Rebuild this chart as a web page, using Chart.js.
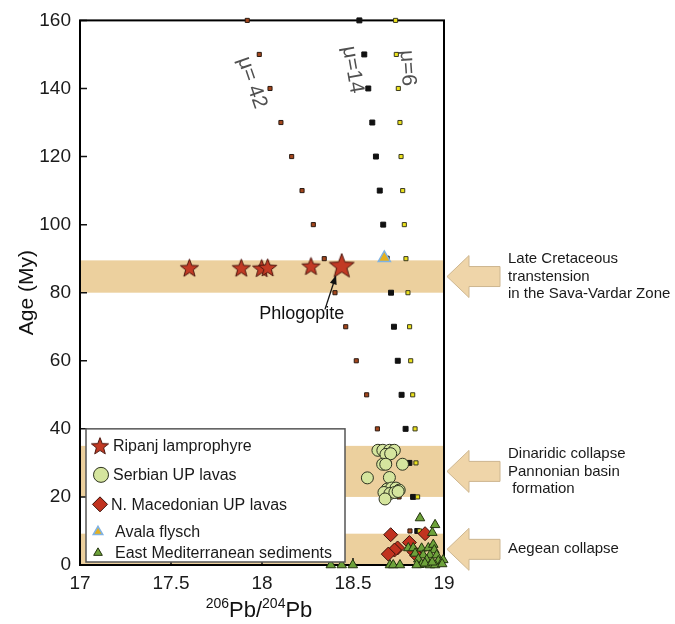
<!DOCTYPE html>
<html>
<head>
<meta charset="utf-8">
<script src="https://cdn.jsdelivr.net/npm/chart.js@4.4.1/dist/chart.umd.min.js"></script>
<style>
  html, body { margin: 0; padding: 0; background: #ffffff; }
  #wrap { width: 675px; height: 624px; }
</style>
</head>
<body>
<div id="wrap"><canvas id="chart" width="675" height="624"></canvas></div>
<script>
// ---- data -------------------------------------------------------------
// Pb growth-curve model points, one every 10 My
const modelAges = [160, 150, 140, 130, 120, 110, 100, 90, 80, 70, 60, 50, 40, 30, 20, 10, 0];
const mu42X = [17.919, 17.985, 18.044, 18.104, 18.163, 18.220, 18.282, 18.342, 18.401, 18.460, 18.518, 18.575, 18.634, 18.698, 18.753, 18.813, 18.870];
const mu14X = [18.535, 18.562, 18.584, 18.606, 18.626, 18.647, 18.666, 18.685, 18.709, 18.725, 18.746, 18.767, 18.789, 18.810, 18.830, 18.853, 18.875];
const mu6X  = [18.734, 18.738, 18.749, 18.758, 18.764, 18.773, 18.782, 18.791, 18.802, 18.811, 18.817, 18.828, 18.841, 18.846, 18.855, 18.866, 18.878];

// Ripanj lamprophyre (last one = phlogopite)
const ripanjX = [17.601, 17.886, 17.998, 18.031, 18.269, 18.438];
const ripanjY = [87.3, 87.3, 87.2, 87.4, 87.8, 88.0];

// Avala flysch
const avalaX = [18.672];
const avalaY = [90.2];

// Serbian UP lavas
const serbianX = [18.637, 18.664, 18.701, 18.727, 18.681, 18.707, 18.663, 18.680, 18.772, 18.579,
                  18.700, 18.688, 18.712, 18.736, 18.754, 18.670, 18.703, 18.730, 18.676, 18.748];
const serbianY = [33.7, 33.7, 33.7, 33.7, 32.5, 32.7, 29.6, 29.6, 29.6, 25.6,
                  25.7, 22.3, 22.6, 22.6, 22.0, 21.3, 21.0, 21.3, 19.4, 21.6];

// N. Macedonian UP lavas
const macedonianX = [18.707, 18.896, 18.810, 18.745, 18.728, 18.694, 18.835, 18.850];
const macedonianY = [8.9, 9.2, 6.6, 5.0, 4.4, 3.2, 3.9, 2.8];

// East Mediterranean sediments
const eastMedX = [18.378, 18.438, 18.499, 18.703, 18.721, 18.758, 18.868, 18.951, 18.936, 18.804,
                  18.831, 18.877, 18.914, 18.941, 18.947, 18.841, 18.886, 18.923, 18.960, 18.859,
                  18.905, 18.969, 18.996, 18.877, 18.923, 18.951, 18.850, 18.990, 18.895, 18.935];
const eastMedY = [0, 0, 0, 0, 0, 0, 13.8, 11.8, 9.5, 5.0,
                  5.0, 4.9, 5.0, 6.0, 4.4, 3.4, 2.9, 2.9, 2.9, 1.7,
                  1.5, 1.2, 1.5, 0.2, 0, 0, 0, 0.3, 0.5, 0.8];

// tectonic episodes (age ranges, My)
const bandFrom = [80, 20, 0];
const bandTo = [89.5, 35, 9.2];
const bandText = [
  ['Late Cretaceous', 'transtension', 'in the Sava-Vardar Zone'],
  ['Dinaridic collapse', 'Pannonian basin', ' formation'],
  ['Aegean collapse']
];

// axis ticks
const xTicks = [17, 17.5, 18, 18.5, 19];
const yTicks = [0, 20, 40, 60, 80, 100, 120, 140, 160];

// curve labels
const muText = ['\u03bc= 42', '\u03bc=14', '\u03bc=6'];

// ---- styles -----------------------------------------------------------
const FONT = '"Liberation Sans", Arial, Helvetica, sans-serif';
const BAND = '#ecd09e';
const ARROW_FILL = '#efd5a9';
const ARROW_EDGE = '#cdb690';
const muStyle = { x: [17.945, 18.498, 18.799], y: [141.7, 145.5, 146.0], rot: [71, 80, 86] };
const phlog = { x: 18.218, y: 73.7, tailX: 18.346, tailY: 75.1, tipX: 18.407, tipY: 85.1 };

function starCanvas(r, fill, stroke) {
  const s = Math.ceil(2 * r + 4);
  const cv = document.createElement('canvas');
  cv.width = s; cv.height = s;
  const g = cv.getContext('2d');
  const c = s / 2;
  g.beginPath();
  for (let i = 0; i < 10; i++) {
    const rr = i % 2 === 0 ? r : r * 0.42;
    const a = -Math.PI / 2 + i * Math.PI / 5;
    const px = c + rr * Math.cos(a), py = c + rr * Math.sin(a) + r * 0.08;
    if (i === 0) g.moveTo(px, py); else g.lineTo(px, py);
  }
  g.closePath();
  g.fillStyle = fill; g.fill();
  g.lineWidth = 1; g.strokeStyle = stroke; g.stroke();
  return cv;
}
const STAR_FILL = '#c23a24', STAR_EDGE = '#4a140c';
const starSmall = starCanvas(9.5, STAR_FILL, STAR_EDGE);
const starBig = starCanvas(13, STAR_FILL, STAR_EDGE);
const starLegend = starCanvas(9, STAR_FILL, STAR_EDGE);

const pts = (xs, ys) => xs.map((v, i) => ({ x: v, y: ys[i] }));
const ages = modelAges;

const datasets = [
  { label: 'East Mediterranean sediments', data: pts(eastMedX, eastMedY), pointStyle: 'triangle',
    pointRadius: 5.5, backgroundColor: '#6da23a', borderColor: '#24330f', borderWidth: 1 },
  { label: 'N. Macedonian UP lavas', data: pts(macedonianX, macedonianY), pointStyle: 'rectRot',
    pointRadius: 7, backgroundColor: '#c1321f', borderColor: '#3a120a', borderWidth: 1 },
  { label: 'Serbian UP lavas', data: pts(serbianX, serbianY), pointStyle: 'circle',
    pointRadius: 6, backgroundColor: '#d5e59e', borderColor: '#2e3320', borderWidth: 1 },
  { label: 'Avala flysch', data: pts(avalaX, avalaY), pointStyle: 'triangle',
    pointRadius: 7, backgroundColor: '#e4b020', borderColor: '#7fb2e3', borderWidth: 1.5 },
  { label: 'Ripanj lamprophyre', data: pts(ripanjX, ripanjY),
    pointStyle: ripanjX.map((v, i) => i === ripanjX.length - 1 ? starBig : starSmall),
    pointRadius: 9, backgroundColor: STAR_FILL, borderColor: STAR_EDGE },
  { label: 'mu=6', data: pts(mu6X, ages), pointStyle: 'rect',
    pointRadius: 2.9, backgroundColor: '#ece21c', borderColor: '#3a3a20', borderWidth: 1 },
  { label: 'mu=14', data: pts(mu14X, ages), pointStyle: 'rect',
    pointRadius: 3.5, backgroundColor: '#111111', borderColor: '#111111', borderWidth: 1 },
  { label: 'mu=42', data: pts(mu42X, ages), pointStyle: 'rect',
    pointRadius: 2.9, backgroundColor: '#a4461c', borderColor: '#2a1a12', borderWidth: 1 }
].map(d => Object.assign({ clip: false, pointHoverRadius: d.pointRadius }, d));

// ---- drawing helpers --------------------------------------------------
function drawMarker(ctx, style, x, y, r, fill, stroke, lw) {
  ctx.save();
  if (typeof style !== 'string') {
    ctx.drawImage(style, x - style.width / 2, y - style.height / 2);
    ctx.restore();
    return;
  }
  ctx.beginPath();
  if (style === 'circle') {
    ctx.arc(x, y, r, 0, Math.PI * 2);
  } else if (style === 'rectRot') {
    ctx.moveTo(x, y - r); ctx.lineTo(x + r, y); ctx.lineTo(x, y + r); ctx.lineTo(x - r, y);
  } else if (style === 'triangle') {
    for (let i = 0; i < 3; i++) {
      const a = i * 2 * Math.PI / 3;
      const px = x + Math.sin(a) * r, py = y - Math.cos(a) * r;
      if (i === 0) ctx.moveTo(px, py); else ctx.lineTo(px, py);
    }
  }
  ctx.closePath();
  ctx.fillStyle = fill; ctx.fill();
  ctx.lineWidth = lw; ctx.strokeStyle = stroke; ctx.stroke();
  ctx.restore();
}

function leftArrow(ctx, tx, cy) {
  ctx.beginPath();
  ctx.moveTo(tx, cy);
  ctx.lineTo(tx + 22, cy - 21);
  ctx.lineTo(tx + 22, cy - 10);
  ctx.lineTo(tx + 53, cy - 10);
  ctx.lineTo(tx + 53, cy + 10);
  ctx.lineTo(tx + 22, cy + 10);
  ctx.lineTo(tx + 22, cy + 21);
  ctx.closePath();
  ctx.fillStyle = ARROW_FILL; ctx.fill();
  ctx.lineWidth = 1; ctx.strokeStyle = ARROW_EDGE; ctx.stroke();
}

const decor = {
  id: 'decor',
  beforeDatasetsDraw(chart) {
    const { ctx, chartArea: a, scales: { x, y } } = chart;
    ctx.save();
    // episode bands
    ctx.fillStyle = BAND;
    bandFrom.forEach((f, i) => {
      const top = y.getPixelForValue(bandTo[i]);
      const bot = y.getPixelForValue(f);
      ctx.fillRect(a.left, top, a.right - a.left, bot - top);
    });
    // inward tick marks
    ctx.strokeStyle = '#111'; ctx.lineWidth = 1.5;
    ctx.beginPath();
    y.ticks.forEach(t => {
      const p = y.getPixelForValue(t.value);
      ctx.moveTo(a.left, p); ctx.lineTo(a.left + 7, p);
    });
    x.ticks.forEach(t => {
      const p = x.getPixelForValue(t.value);
      ctx.moveTo(p, a.bottom); ctx.lineTo(p, a.bottom - 7);
    });
    ctx.stroke();
    // frame
    ctx.lineWidth = 2; ctx.strokeStyle = '#000';
    ctx.strokeRect(a.left, a.top, a.right - a.left, a.bottom - a.top);
    // growth-curve labels
    ctx.fillStyle = '#505050';
    ctx.font = '21px ' + FONT;
    ctx.textAlign = 'center'; ctx.textBaseline = 'middle';
    muText.forEach((t, i) => {
      ctx.save();
      ctx.translate(x.getPixelForValue(muStyle.x[i]), y.getPixelForValue(muStyle.y[i]));
      ctx.rotate(muStyle.rot[i] * Math.PI / 180);
      ctx.fillText(t, 0, 0);
      ctx.restore();
    });
    ctx.restore();
  },
  afterDatasetsDraw(chart) {
    const { ctx, chartArea: a, scales: { x, y } } = chart;
    ctx.save();

    // phlogopite annotation
    ctx.fillStyle = '#111';
    ctx.font = '18px ' + FONT;
    ctx.textAlign = 'center'; ctx.textBaseline = 'middle';
    ctx.fillText('Phlogopite', x.getPixelForValue(phlog.x), y.getPixelForValue(phlog.y));
    const x0 = x.getPixelForValue(phlog.tailX), y0 = y.getPixelForValue(phlog.tailY);
    const x1 = x.getPixelForValue(phlog.tipX), y1 = y.getPixelForValue(phlog.tipY);
    const ang = Math.atan2(y1 - y0, x1 - x0);
    ctx.strokeStyle = '#111'; ctx.lineWidth = 1.3;
    ctx.beginPath(); ctx.moveTo(x0, y0);
    ctx.lineTo(x1 - 7 * Math.cos(ang), y1 - 7 * Math.sin(ang)); ctx.stroke();
    ctx.beginPath();
    ctx.moveTo(x1, y1);
    ctx.lineTo(x1 - 9 * Math.cos(ang) + 3.5 * Math.sin(ang), y1 - 9 * Math.sin(ang) - 3.5 * Math.cos(ang));
    ctx.lineTo(x1 - 9 * Math.cos(ang) - 3.5 * Math.sin(ang), y1 - 9 * Math.sin(ang) + 3.5 * Math.cos(ang));
    ctx.closePath(); ctx.fill();

    // legend
    const lx = a.left + 6, ly = y.getPixelForValue(40), lw = 259, lh = a.bottom - 3 - ly;
    ctx.fillStyle = '#fff';
    ctx.fillRect(lx, ly, lw, lh);
    ctx.lineWidth = 1.5; ctx.strokeStyle = '#555';
    ctx.strokeRect(lx, ly, lw, lh);
    const rows = [
      { ds: 4, dy: 17, mx: 14, r: 9, tx: 27, style: starLegend },
      { ds: 2, dy: 46, mx: 15, r: 7.5, tx: 27 },
      { ds: 1, dy: 75.5, mx: 14, r: 7.5, tx: 25 },
      { ds: 3, dy: 103, mx: 12, r: 5.5, tx: 29 },
      { ds: 0, dy: 124, mx: 12, r: 5, tx: 29 }
    ];
    ctx.font = '16px ' + FONT;
    ctx.textAlign = 'left'; ctx.textBaseline = 'middle';
    rows.forEach(rw => {
      const d = chart.data.datasets[rw.ds];
      const cy = ly + rw.dy;
      drawMarker(ctx, rw.style || d.pointStyle, lx + rw.mx, cy, rw.r,
                 d.backgroundColor, d.borderColor, d.borderWidth || 1);
      ctx.fillStyle = '#1a1a1a';
      ctx.fillText(d.label, lx + rw.tx, cy + 1);
    });

    // episode arrows and captions
    ctx.font = '15px ' + FONT;
    bandFrom.forEach((f, i) => {
      const cy = (y.getPixelForValue(f) + y.getPixelForValue(bandTo[i])) / 2;
      leftArrow(ctx, a.right + 3, cy);
      const lines = bandText[i];
      ctx.fillStyle = '#1a1a1a';
      ctx.textAlign = 'left'; ctx.textBaseline = 'middle';
      lines.forEach((t, k) => {
        ctx.fillText(t, a.right + 64, cy + (k - (lines.length - 1) / 2) * 17.5);
      });
    });

    // axis titles
    ctx.fillStyle = '#111';
    ctx.save();
    ctx.translate(27, (a.top + a.bottom) / 2);
    ctx.rotate(-Math.PI / 2);
    ctx.font = '21px ' + FONT;
    ctx.textAlign = 'center'; ctx.textBaseline = 'middle';
    ctx.fillText('Age (My)', 0, 0);
    ctx.restore();

    const parts = [['206', true], ['Pb', false], ['/', false], ['204', true], ['Pb', false]];
    const big = '22px ' + FONT, small = '14px ' + FONT;
    let total = 0;
    parts.forEach(p => { ctx.font = p[1] ? small : big; total += ctx.measureText(p[0]).width; });
    let cx = (a.left + a.right) / 2 - 3 - total / 2;
    const base = 617;
    ctx.textAlign = 'left'; ctx.textBaseline = 'alphabetic';
    parts.forEach(p => {
      ctx.font = p[1] ? small : big;
      ctx.fillText(p[0], cx, p[1] ? base - 9 : base);
      cx += ctx.measureText(p[0]).width;
    });
    ctx.restore();
  }
};

new Chart(document.getElementById('chart'), {
  type: 'scatter',
  data: { datasets },
  options: {
    responsive: false,
    animation: false,
    devicePixelRatio: 1,
    layout: { padding: { left: 0, right: 231, top: 15, bottom: 0 } },
    plugins: { legend: { display: false }, tooltip: { enabled: false } },
    events: [],
    scales: {
      x: {
        type: 'linear', min: 17, max: 19,
        afterBuildTicks: s => { s.ticks = xTicks.map(v => ({ value: v })); },
        afterFit: s => { s.height = 59; },
        grid: { display: false, drawTicks: false },
        border: { display: false },
        ticks: { font: { family: FONT, size: 19 }, color: '#1a1a1a', padding: 7, maxRotation: 0,
                 callback: v => String(v) }
      },
      y: {
        type: 'linear', min: 0, max: 160,
        afterBuildTicks: s => { s.ticks = yTicks.map(v => ({ value: v })); },
        afterFit: s => { s.width = 80; },
        grid: { display: false, drawTicks: false },
        border: { display: false },
        ticks: { font: { family: FONT, size: 19 }, color: '#1a1a1a', padding: 9,
                 callback: v => String(v) }
      }
    }
  },
  plugins: [decor]
});
</script>
</body>
</html>
